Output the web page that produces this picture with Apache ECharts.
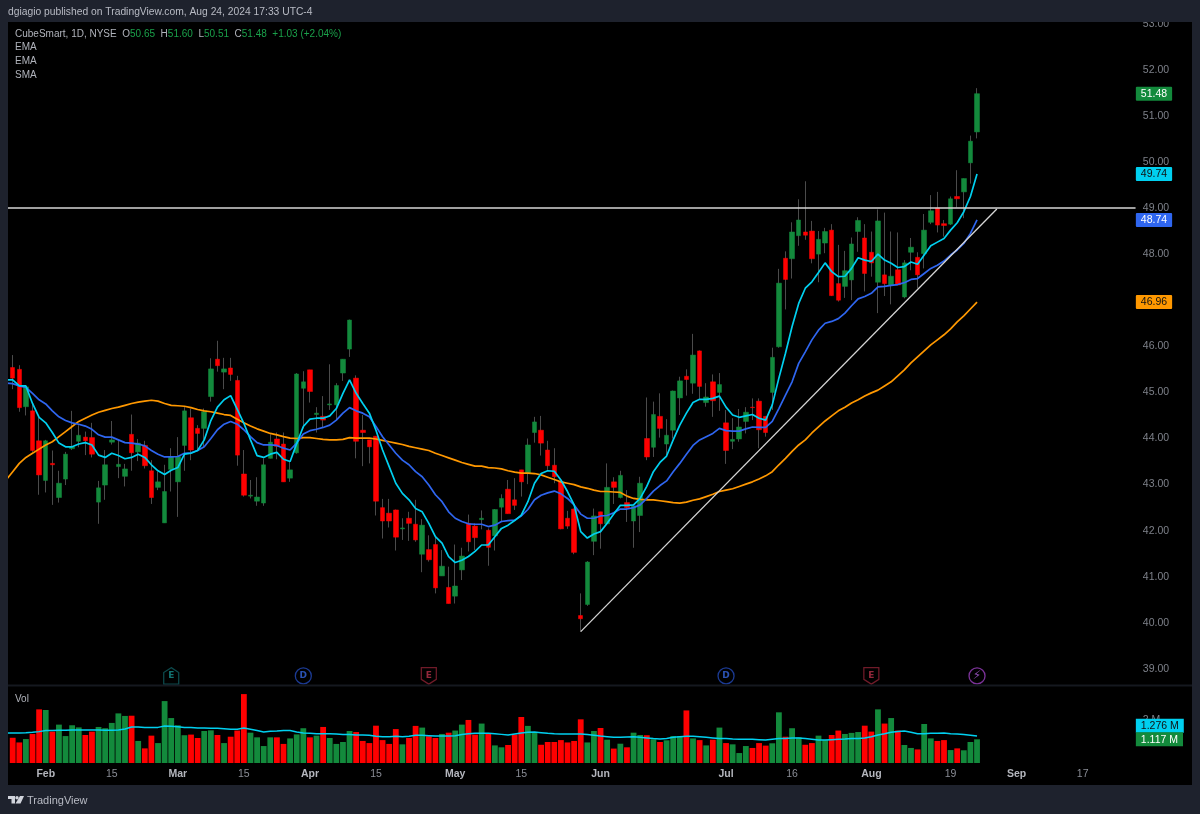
<!DOCTYPE html>
<html><head><meta charset="utf-8">
<style>html,body{margin:0;padding:0;background:#000}#c{width:1200px;height:814px}</style>
<script src="https://cdn.jsdelivr.net/npm/echarts@6/dist/echarts.min.js"></script>
</head><body><div id="c"></div>
<script>
const categories=["Jan 24","Jan 25","Jan 26","Jan 29","Jan 30","Jan 31",
"Feb 1","Feb 2","Feb 5","Feb 6","Feb 7","Feb 8","Feb 9","Feb 12","Feb 13","Feb 14","Feb 15","Feb 16","Feb 20","Feb 21","Feb 22","Feb 23","Feb 26","Feb 27","Feb 28","Feb 29",
"Mar 1","Mar 4","Mar 5","Mar 6","Mar 7","Mar 8","Mar 11","Mar 12","Mar 13","Mar 14","Mar 15","Mar 18","Mar 19","Mar 20","Mar 21","Mar 22","Mar 25","Mar 26","Mar 27","Mar 28",
"Apr 1","Apr 2","Apr 3","Apr 4","Apr 5","Apr 8","Apr 9","Apr 10","Apr 11","Apr 12","Apr 15","Apr 16","Apr 17","Apr 18","Apr 19","Apr 22","Apr 23","Apr 24","Apr 25","Apr 26","Apr 29","Apr 30",
"May 1","May 2","May 3","May 6","May 7","May 8","May 9","May 10","May 13","May 14","May 15","May 16","May 17","May 20","May 21","May 22","May 23","May 24","May 28","May 29","May 30","May 31",
"Jun 3","Jun 4","Jun 5","Jun 6","Jun 7","Jun 10","Jun 11","Jun 12","Jun 13","Jun 14","Jun 17","Jun 18","Jun 20","Jun 21","Jun 24","Jun 25","Jun 26","Jun 27","Jun 28",
"Jul 1","Jul 2","Jul 3","Jul 5","Jul 8","Jul 9","Jul 10","Jul 11","Jul 12","Jul 15","Jul 16","Jul 17","Jul 18","Jul 19","Jul 22","Jul 23","Jul 24","Jul 25","Jul 26","Jul 29","Jul 30","Jul 31",
"Aug 1","Aug 2","Aug 5","Aug 6","Aug 7","Aug 8","Aug 9","Aug 12","Aug 13","Aug 14","Aug 15","Aug 16","Aug 19","Aug 20","Aug 21","Aug 22","Aug 23",
"Aug 26","Aug 27","Aug 28","Aug 29","Aug 30","Sep 3","Sep 4","Sep 5","Sep 6","Sep 9","Sep 10","Sep 11","Sep 12","Sep 13","Sep 16","Sep 17","Sep 18","Sep 19","Sep 20","Sep 23","Sep 24","Sep 25","Sep 26","Sep 27"];
const tickDates=["Feb 1","Feb 15","Mar 1","Mar 15","Apr 1","Apr 15","May 1","May 15","Jun 3","Jul 1","Jul 16","Aug 1","Aug 19","Sep 3","Sep 17"];
const tickLabels=["Feb","15","Mar","15","Apr","15","May","15","Jun","Jul","16","Aug","19","Sep","17"];
const priceTicks=[39,40,41,42,43,44,45,46,47,48,49,50,51,52,53];
const priceTags=[51.48,49.74,48.74,46.96];

const opens=[45.54,45.50,44.69,44.60,43.95,43.09,43.46,42.72,43.12,43.78,
43.94,44.03,44.02,42.62,42.99,43.92,43.39,43.18,44.09,43.71,
43.85,43.30,42.94,42.17,43.33,43.06,43.85,44.45,44.22,44.22,
44.91,45.72,45.44,45.53,45.26,43.23,42.75,42.64,42.60,43.57,
43.99,43.88,43.14,43.69,45.09,45.49,44.52,44.48,44.73,44.73,
45.42,45.94,45.31,44.18,43.97,44.05,42.50,42.38,42.45,42.04,
42.27,42.14,41.49,41.59,41.70,41.02,40.77,40.58,41.15,42.16,
42.10,42.24,42.01,41.89,42.51,42.90,42.67,43.32,43.25,44.13,
44.18,43.75,43.42,43.06,42.27,42.47,40.16,40.40,41.77,42.41,
42.15,43.06,42.72,42.61,42.21,42.33,44.00,43.81,44.48,43.88,
44.18,44.88,45.35,45.20,45.90,44.78,45.23,45.00,44.34,43.94,
43.99,44.37,44.68,44.81,44.48,45.00,45.99,47.91,47.90,48.40,
48.48,48.50,48.00,48.24,48.52,47.36,47.30,47.44,48.49,48.35,
48.04,47.39,47.55,47.32,47.66,47.07,48.04,47.93,48.01,48.69,
49.00,48.66,48.65,49.25,49.35,49.98,50.65];
const closes=[45.31,44.67,45.12,43.74,43.21,43.95,43.43,43.03,43.66,43.82,
44.07,43.95,43.66,42.93,43.43,43.97,43.44,43.34,43.69,43.90,
43.41,42.72,43.06,42.85,43.61,43.61,44.60,43.75,44.11,44.58,
45.51,45.58,45.51,45.39,43.64,42.77,42.77,42.73,43.43,43.92,
43.83,43.06,43.32,45.40,45.23,45.02,44.55,44.40,44.75,45.15,
45.72,46.57,43.94,44.13,43.82,42.64,42.21,42.21,41.86,42.06,
42.16,41.80,42.12,41.37,40.76,41.23,40.42,40.80,41.45,41.76,
41.85,42.27,41.64,42.46,42.70,42.37,42.55,43.06,43.86,44.36,
43.90,43.41,43.17,42.04,42.10,41.53,40.09,41.32,42.32,42.15,
42.94,42.94,43.20,42.50,42.54,43.03,43.60,44.52,44.22,44.07,
45.03,45.25,45.28,45.81,45.13,44.90,44.82,45.17,43.74,43.98,
44.25,44.57,44.67,44.19,44.13,45.76,47.37,47.45,48.48,48.74,
48.41,47.90,48.32,48.49,47.10,47.00,47.64,48.22,48.73,47.58,
47.81,48.72,47.36,47.52,47.33,47.81,48.15,47.55,48.52,48.94,
48.63,48.62,49.20,49.20,49.64,50.45,51.48];
const highs=[45.81,45.59,45.16,44.76,44.46,43.97,43.74,43.30,43.71,44.60,
44.29,44.15,44.34,43.08,43.75,44.38,43.97,43.45,44.52,43.99,
43.95,43.53,43.28,43.43,43.79,44.03,44.68,44.65,44.29,44.65,
45.74,46.12,45.75,45.75,45.36,43.75,43.10,43.16,43.57,44.09,
44.13,44.13,43.50,45.42,45.46,45.49,44.68,44.92,45.61,45.20,
45.72,46.58,45.37,44.51,43.97,44.05,42.69,42.69,42.46,42.27,
42.41,42.67,42.25,41.90,41.87,41.58,41.22,41.70,41.63,42.35,
42.16,42.44,42.05,42.47,42.79,43.10,43.14,43.32,44.00,44.47,
44.49,43.95,43.79,43.06,42.43,42.48,40.64,41.34,42.48,42.41,
43.46,43.16,43.30,42.88,42.54,43.17,44.89,44.80,44.98,44.42,
45.04,45.34,45.50,46.27,45.91,45.20,45.39,45.42,44.62,44.44,
44.64,44.68,44.87,44.87,44.49,45.97,47.68,48.06,48.69,49.19,
49.58,48.72,48.50,48.57,48.65,48.20,48.07,48.36,48.80,48.65,
48.49,48.97,48.90,48.49,48.47,47.87,48.35,48.04,48.87,49.28,
49.35,48.74,49.25,49.82,49.64,50.57,51.60];
const lows=[45.07,44.58,44.50,43.71,42.78,42.83,42.56,42.61,42.99,43.75,
43.81,43.64,43.59,42.15,42.67,43.87,43.14,42.96,43.30,43.51,
43.35,42.58,42.88,42.17,42.85,42.30,43.30,43.53,43.75,43.81,
44.80,45.45,45.07,45.25,43.41,42.74,42.70,42.54,42.54,43.57,
43.55,43.06,43.06,43.67,44.22,44.78,44.13,44.24,44.62,44.42,
45.25,45.77,43.57,43.40,43.46,42.33,41.83,42.07,41.57,41.80,
41.78,41.76,41.10,41.33,40.64,41.02,40.42,40.42,40.93,41.55,
41.58,42.03,41.24,41.57,42.20,42.37,42.45,42.74,43.01,43.91,
43.63,43.32,43.03,42.03,42.04,41.49,39.81,40.37,41.47,41.61,
42.12,42.58,42.70,42.19,41.63,41.97,43.53,43.60,44.02,43.64,
44.00,44.51,44.93,44.97,44.86,44.69,44.47,44.60,43.45,43.77,
43.93,44.11,44.40,43.79,44.04,44.62,45.97,46.80,47.47,48.18,
48.31,47.80,47.39,48.02,47.09,46.97,47.05,47.00,48.05,47.19,
47.51,46.72,47.09,46.91,47.33,47.04,47.65,47.26,47.69,48.65,
48.47,48.38,48.63,49.01,48.78,49.53,50.51];

// first entry belongs to the session just left of the visible window
const emaFast=[45.27,45.27,45.14,45.14,44.76,44.46,44.34,44.13,43.90,43.82,43.82,
43.88,43.91,43.86,43.64,43.59,43.68,43.63,43.56,43.59,43.66,
43.59,43.43,43.30,43.22,43.31,43.37,43.66,43.68,43.74,43.97,
44.39,44.68,44.84,44.93,44.63,44.33,43.97,43.63,43.59,43.66,
43.70,43.55,43.50,43.89,44.26,44.42,44.44,44.44,44.49,44.65,
44.98,45.27,44.98,44.76,44.55,44.18,43.75,43.39,43.03,42.81,
42.67,42.48,42.41,42.16,41.87,41.73,41.44,41.31,41.36,41.44,
41.55,41.69,41.69,41.87,42.05,42.12,42.22,42.34,42.63,43.03,
43.24,43.30,43.29,43.10,42.85,42.56,41.98,41.84,41.93,41.98,
42.16,42.36,42.55,42.55,42.56,42.70,42.96,43.28,43.48,43.62,
43.97,44.29,44.55,44.78,44.85,44.85,44.87,44.92,44.68,44.51,
44.46,44.49,44.52,44.44,44.40,44.73,45.31,45.85,46.43,46.93,
47.26,47.40,47.60,47.81,47.62,47.51,47.52,47.69,47.92,47.87,
47.84,48.00,47.87,47.80,47.71,47.73,47.83,47.78,47.98,48.18,
48.26,48.34,48.52,48.68,48.92,49.25,49.74];
const emaSlow=[45.20,45.19,45.14,45.11,44.98,44.84,44.75,44.60,44.47,44.39,44.34,
44.31,44.27,44.20,44.08,44.03,44.03,43.97,43.91,43.90,43.88,
43.84,43.74,43.66,43.60,43.60,43.61,43.68,43.69,43.74,43.82,
44.00,44.19,44.31,44.37,44.31,44.19,44.04,43.91,43.86,43.86,
43.85,43.79,43.75,43.90,44.10,44.17,44.20,44.24,44.29,44.40,
44.55,44.67,44.60,44.55,44.47,44.26,44.04,43.86,43.68,43.53,
43.43,43.28,43.17,42.99,42.78,42.63,42.41,42.27,42.20,42.15,
42.14,42.14,42.09,42.12,42.20,42.22,42.23,42.32,42.46,42.67,
42.77,42.82,42.86,42.80,42.70,42.56,42.36,42.27,42.27,42.32,
42.33,42.39,42.47,42.47,42.50,42.56,42.70,42.86,42.98,43.08,
43.28,43.46,43.66,43.85,43.97,44.04,44.11,44.22,44.17,44.16,
44.16,44.21,44.25,44.24,44.24,44.37,44.65,44.94,45.23,45.63,
45.88,46.14,46.35,46.50,46.54,46.60,46.72,46.88,47.03,47.08,
47.15,47.29,47.30,47.32,47.34,47.38,47.45,47.47,47.58,47.69,
47.76,47.85,47.98,48.09,48.23,48.45,48.74];
const smaLong=[43.10,43.28,43.46,43.59,43.68,43.77,43.86,43.93,44.04,44.15,44.26,
44.37,44.44,44.51,44.57,44.61,44.65,44.68,44.72,44.76,44.79,
44.81,44.83,44.81,44.76,44.72,44.71,44.70,44.67,44.63,44.60,
44.58,44.55,44.52,44.50,44.42,44.34,44.27,44.21,44.16,44.11,
44.08,44.04,44.01,44.00,44.02,44.02,44.00,43.98,43.97,43.97,
43.98,44.02,44.01,44.01,44.01,43.99,43.96,43.93,43.90,43.87,
43.83,43.80,43.77,43.74,43.68,43.63,43.58,43.53,43.48,43.44,
43.40,43.40,43.37,43.36,43.34,43.30,43.27,43.25,43.25,43.24,
43.21,43.16,43.11,43.06,43.03,43.00,42.95,42.92,42.88,42.85,
42.85,42.84,42.83,42.75,42.70,42.68,42.67,42.67,42.65,42.63,
42.61,42.60,42.62,42.66,42.69,42.74,42.79,42.85,42.88,42.91,
42.96,43.01,43.06,43.12,43.19,43.28,43.43,43.57,43.72,43.86,
43.97,44.12,44.25,44.38,44.49,44.60,44.68,44.77,44.84,44.92,
44.99,45.05,45.14,45.23,45.36,45.49,45.64,45.77,45.90,46.03,
46.14,46.25,46.38,46.53,46.66,46.81,46.96];

const volumes=[1.19,.97,1.13,1.37,2.53,2.50,1.48,1.81,1.27,1.78,
1.68,1.32,1.48,1.70,1.64,1.89,2.34,2.22,2.23,1.04,
.69,1.29,.94,2.92,2.12,1.78,1.31,1.34,1.18,1.51,
1.54,1.32,.94,1.24,1.53,3.25,1.43,1.21,.80,1.21,
1.21,.90,1.16,1.35,1.64,1.21,1.29,1.70,1.18,.90,
.99,1.51,1.46,1.04,.94,1.76,1.08,.90,1.60,.88,
1.18,1.75,1.67,1.26,1.18,1.37,1.43,1.53,1.81,2.03,
1.34,1.86,1.37,.83,.74,.85,1.34,2.17,1.75,1.43,
.86,.99,.99,1.08,.97,1.04,2.06,.97,1.51,1.65,
1.10,.68,.91,.74,1.43,1.32,1.31,1.12,.99,1.07,
1.27,1.27,2.48,1.16,1.08,.83,1.10,1.67,.94,.88,
.47,.80,.71,.94,.82,.93,2.39,1.24,1.64,1.21,
.86,.94,1.29,1.08,1.32,1.53,1.37,1.42,1.46,1.76,
1.48,2.53,1.86,2.12,1.53,.85,.71,.64,1.84,1.16,
1.04,1.08,.61,.69,.60,.99,1.117];
const volumeMa=[1.42,1.42,1.42,1.43,1.45,1.48,1.53,1.53,1.54,1.54,1.56,
1.56,1.56,1.56,1.56,1.54,1.54,1.56,1.60,1.70,1.70,
1.67,1.67,1.68,1.75,1.73,1.71,1.68,1.67,1.65,1.65,
1.64,1.64,1.62,1.59,1.59,1.65,1.59,1.53,1.46,1.50,
1.51,1.53,1.53,1.46,1.42,1.40,1.38,1.38,1.38,1.37,
1.35,1.34,1.32,1.32,1.31,1.26,1.24,1.24,1.26,1.24,
1.26,1.31,1.31,1.29,1.27,1.27,1.27,1.29,1.34,1.38,
1.40,1.40,1.40,1.38,1.35,1.32,1.37,1.42,1.45,1.46,
1.43,1.40,1.38,1.37,1.37,1.37,1.37,1.34,1.31,1.27,
1.24,1.21,1.21,1.23,1.24,1.21,1.18,1.15,1.13,1.16,
1.21,1.24,1.26,1.26,1.24,1.21,1.18,1.15,1.15,1.13,
1.12,1.12,1.12,1.10,1.08,1.12,1.15,1.16,1.18,1.18,
1.15,1.12,1.08,1.08,1.10,1.12,1.13,1.15,1.15,1.18,
1.24,1.32,1.38,1.45,1.49,1.51,1.45,1.38,1.38,1.40,
1.40,1.42,1.38,1.37,1.34,1.31,1.276];
const volumeAxisMax=3.679;
const volumeTicks=[3.6,2,1.76,1.117,0.05];
const volumeTickText=["","2 M","1.276 M","1.117 M",""];
const resistanceLevel=49;
const resistanceDates=["Jan 24","Sep 27"];
const trendDates=["May 29","Aug 28"];
const trendPrices=[39.81,48.98];
const eventDates=["Feb 29","Mar 28","Apr 25","Jul 1","Aug 1","Aug 23"];
const eventLetters=["E","D","E","D","E","\u26A1"];
const eventKinds=["earnUp","div","earnDown","div","earnDown","split"];
const eventLevel=38.85;

const GREEN="#138a3c",RED="#ff0000",WICK="#4b4b4b",CYAN="#00d0f0",BLUE="#2f66f0",ORANGE="#ff9800";
const PANEL="#1e222d";
const LEFT=2.79,BAND=6.605;
const gridW=BAND*categories.length;
const gridRight=1200-LEFT-gridW;

const blankCandle=['-','-','-','-'];
const wickData=[blankCandle].concat(opens.map((o,i)=>[o,closes[i],lows[i],highs[i]]));
const bodyData=[blankCandle].concat(opens.map((o,i)=>[o,closes[i],Math.min(o,closes[i]),Math.max(o,closes[i])]));
const volData=['-'].concat(volumes.map((v,i)=>({value:v,itemStyle:{color:closes[i]>=opens[i]?GREEN:RED}})));

const eventStyle={
 earnUp:{symbol:'path://M8 0 L16 5 L16 17 L0 17 L0 5 Z',symbolSize:[15,16.5],border:'#0f5c60',text:'#17908f',size:9},
 earnDown:{symbol:'path://M0 0 L16 0 L16 12 L8 17 L0 12 Z',symbolSize:[15,16.5],border:'#8c2233',text:'#b8324a',size:9},
 div:{symbol:'circle',symbolSize:16,border:'#2249b8',text:'#3566e0',size:9},
 split:{symbol:'circle',symbolSize:16,border:'#9a3fbe',text:'#b060e0',size:12}
};
const eventData=eventDates.map((d,i)=>{const s=eventStyle[eventKinds[i]];return{
 value:[d,eventLevel],symbol:s.symbol,symbolSize:s.symbolSize,
 itemStyle:{color:'#000',borderColor:s.border,borderWidth:1.3},
 label:{show:true,position:'inside',formatter:eventLetters[i],color:s.text,fontSize:s.size,fontWeight:'bold',fontFamily:'DejaVu Sans'}
};});

const lineSeries=(name,data,color)=>({name,type:'line',data,xAxisIndex:0,yAxisIndex:0,showSymbol:false,symbol:'none',smooth:false,z:5,
 lineStyle:{color,width:1.7},silent:true});

const chart=echarts.init(document.getElementById('c'));
const FONT='"Liberation Sans",Arial,sans-serif';
const G=(text,x,y,fill,size)=>({type:'text',z:101,style:{text,x,y,fill,font:(size||10)+'px '+FONT,textVerticalAlign:'middle'}});
const tagStyle=(bg,fg)=>({backgroundColor:bg,color:fg,fontSize:10.5,fontFamily:FONT,padding:[2,5,1,5],borderRadius:1});
chart.setOption({
 animation:false,backgroundColor:'#000',
 grid:[{left:LEFT,right:gridRight,top:22,height:663},{left:LEFT,right:gridRight,top:685,height:78}],
 xAxis:[
  {type:'category',gridIndex:0,data:categories,axisLine:{show:false},axisTick:{show:false},axisLabel:{show:false},splitLine:{show:false}},
  {type:'category',gridIndex:1,data:categories,axisLine:{show:false},axisTick:{show:false},splitLine:{show:false},
   axisLabel:{show:true,margin:6,hideOverlap:false,interval:(i,v)=>tickDates.includes(v),
    formatter:v=>{const t=tickLabels[tickDates.indexOf(v)];return /\d/.test(t)?'{d|'+t+'}':'{m|'+t+'}';},
    rich:{d:{color:'#8a8d96',fontSize:10.5,fontFamily:FONT},m:{color:'#b4b6bd',fontSize:10.5,fontWeight:'bold',fontFamily:FONT}}}}
 ],
 yAxis:[
  {type:'value',gridIndex:0,position:'right',min:38.653,max:53.035,scale:true,splitLine:{show:false},axisLine:{show:false},axisTick:{show:false},
   axisLabel:{show:true,margin:-3,align:'left',customValues:priceTicks.concat(priceTags),hideOverlap:false,
    formatter:v=>{const k=priceTags.indexOf(v);return k>=0?'{t'+k+'|'+v.toFixed(2)+'}':'{p|'+v.toFixed(2)+'}';},
    rich:{p:{color:'#7d8089',fontSize:10.5,fontFamily:FONT,padding:[0,0,0,7]},
     t0:tagStyle(GREEN,'#fff'),t1:tagStyle(CYAN,'#111'),t2:tagStyle(BLUE,'#fff'),t3:tagStyle(ORANGE,'#111')}}},
  {type:'value',gridIndex:1,position:'right',min:0,max:volumeAxisMax,splitLine:{show:false},axisLine:{show:false},axisTick:{show:false},
   axisLabel:{show:true,margin:-3,align:'left',customValues:volumeTicks,
    formatter:v=>{const k=volumeTicks.indexOf(v),s=volumeTickText[k];return s?'{v'+k+'|'+s+'}':'';},
    rich:{v1:{color:'#7d8089',fontSize:10.5,fontFamily:FONT,padding:[0,0,0,7]},
     v3:{backgroundColor:GREEN,color:'#fff',fontSize:10.5,fontFamily:FONT,padding:[2,5,1,5]},
     v2:{backgroundColor:CYAN,color:'#111',fontSize:10.5,fontFamily:FONT,padding:[2,5,1,5]}}}}
 ],
 series:[
  {name:'Wicks',type:'candlestick',data:wickData,xAxisIndex:0,yAxisIndex:0,barWidth:1,z:2,
   itemStyle:{color:WICK,color0:WICK,borderColor:WICK,borderColor0:WICK,borderWidth:1}},
  {name:'Bodies',type:'candlestick',data:bodyData,xAxisIndex:0,yAxisIndex:0,barWidth:5,z:3,
   itemStyle:{color:GREEN,color0:RED,borderColor:GREEN,borderColor0:RED,borderWidth:0.5}},
  lineSeries('SMA',smaLong,ORANGE),
  lineSeries('EMA slow',emaSlow,BLUE),
  lineSeries('EMA fast',emaFast,CYAN),
  {name:'Resistance',type:'line',xAxisIndex:0,yAxisIndex:0,symbol:'none',z:6,lineStyle:{color:'#d6d6d6',width:1.5},
   data:resistanceDates.map(d=>[d,resistanceLevel])},
  {name:'Trend',type:'line',xAxisIndex:0,yAxisIndex:0,symbol:'none',z:6,lineStyle:{color:'#d6d6d6',width:1.3},
   data:trendDates.map((d,i)=>[d,trendPrices[i]])},
  {name:'Events',type:'scatter',xAxisIndex:0,yAxisIndex:0,data:eventData,z:7},
  {name:'Vol',type:'bar',xAxisIndex:1,yAxisIndex:1,data:volData,barWidth:5.8,z:2},
  {name:'Vol MA',type:'line',xAxisIndex:1,yAxisIndex:1,data:volumeMa,symbol:'none',z:4,lineStyle:{color:CYAN,width:1.5}}
 ],
 graphic:{elements:[
  {type:'line',z:50,shape:{x1:8,y1:685.5,x2:1192,y2:685.5},style:{stroke:'#15181f',lineWidth:2}},
  {type:'rect',z:100,shape:{x:0,y:0,width:1200,height:22},style:{fill:PANEL}},
  {type:'rect',z:100,shape:{x:0,y:785,width:1200,height:29},style:{fill:PANEL}},
  {type:'rect',z:100,shape:{x:0,y:0,width:8,height:814},style:{fill:PANEL}},
  {type:'rect',z:100,shape:{x:1192,y:0,width:8,height:814},style:{fill:PANEL}},
  G('dgiagio published on TradingView.com, Aug 24, 2024 17:33 UTC-4',8,12.5,'#b8bbc4',10.3),
  {type:'text',z:101,style:{x:15,y:34,textVerticalAlign:'middle',font:'10px '+FONT,fill:'#b0b3bb',
    text:'CubeSmart, 1D, NYSE  O{g|50.65}  H{g|51.60}  L{g|50.51}  C{g|51.48}  {g|+1.03 (+2.04%)}',
    rich:{g:{fill:'#1aa04a',font:'10px '+FONT}}}},
  G('EMA',15,47.5,'#b0b3bb'),G('EMA',15,61.5,'#b0b3bb'),G('SMA',15,75.5,'#b0b3bb'),
  G('Vol',15,699,'#b0b3bb'),
  {type:'polygon',z:101,shape:{points:[[8,796],[15,796],[15,803.5],[11.5,803.5],[11.5,799],[8,799]]},style:{fill:'#d1d4dc'}},
  {type:'circle',z:101,shape:{cx:17,cy:797.7,r:1.7},style:{fill:'#d1d4dc'}},
  {type:'polygon',z:101,shape:{points:[[20,796],[24,796],[20.5,803.5],[15.5,803.5]]},style:{fill:'#d1d4dc'}},
  G('TradingView',27,800.5,'#b8bbc4',11)
 ]}
});
</script></body></html>
